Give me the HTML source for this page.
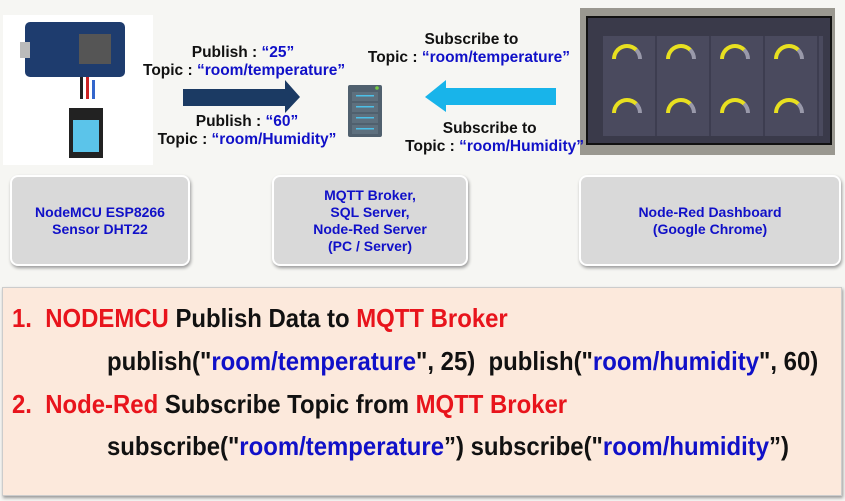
<!DOCTYPE html>
<html><head><style>
body{margin:0;width:845px;height:501px;background:#f6f6f3;position:relative;overflow:hidden;font-family:"Liberation Sans",Arial,sans-serif;font-weight:bold}
.a{position:absolute}
.box{position:absolute;background:#d9d9d9;border:2px solid #fff;border-radius:8px;box-shadow:1px 2px 3px #999;display:flex;align-items:center;justify-content:center;text-align:center;color:#1010c8;font-size:14px;line-height:17px}
.t{position:absolute;font-size:15.5px;color:#111;white-space:nowrap;text-align:center;line-height:18px}
.b{color:#1010c8}.r{color:#e8141c}
.ln{position:absolute;white-space:nowrap;font-size:26px;transform:scaleX(0.92);transform-origin:left center;color:#111}
.g{position:absolute;width:22px;height:11px;border:4px solid #e8e020;border-bottom:none;border-radius:15px 15px 0 0;border-right-color:#99a}
</style></head><body>
<div class="a" style="left:3px;top:15px;width:150px;height:150px;background:#fff"></div>
<div class="a" style="left:25px;top:22px;width:100px;height:55px;background:#1e3c6e;border-radius:5px"></div>
<div class="a" style="left:20px;top:42px;width:10px;height:16px;background:#bbb"></div>
<div class="a" style="left:79px;top:34px;width:32px;height:30px;background:#555"></div>
<div class="a" style="left:80px;top:77px;width:3px;height:22px;background:#222"></div>
<div class="a" style="left:86px;top:77px;width:3px;height:22px;background:#c22"></div>
<div class="a" style="left:92px;top:80px;width:3px;height:19px;background:#36c"></div>
<div class="a" style="left:69px;top:108px;width:34px;height:50px;background:#222"></div>
<div class="a" style="left:73px;top:120px;width:26px;height:32px;background:#5bc4ea"></div>
<div class="a" style="left:580px;top:8px;width:255px;height:147px;background:#9a9890"></div>
<div class="a" style="left:586px;top:16px;width:242px;height:125px;background:#3a3a4a;border:2px solid #111"></div>
<div class="a" style="left:603px;top:36px;width:220px;height:100px;background:repeating-linear-gradient(90deg,#4a4a5e 0 52px,#3d3d50 52px 54px)"></div>
<div class="g" style="left:612px;top:44px"></div><div class="g" style="left:666px;top:44px"></div><div class="g" style="left:720px;top:44px"></div><div class="g" style="left:774px;top:44px"></div>
<div class="g" style="left:612px;top:98px"></div><div class="g" style="left:666px;top:98px"></div><div class="g" style="left:720px;top:98px"></div><div class="g" style="left:774px;top:98px"></div>
<div class="t" style="left:143px;top:44px;width:200px">Publish : <span class="b">“25”</span><br>Topic : <span class="b">“room/temperature”</span></div>
<div class="t" style="left:147px;top:113px;width:200px">Publish : <span class="b">“60”</span><br>Topic : <span class="b">“room/Humidity”</span></div>
<div class="t" style="left:360px;top:31px;width:210px;text-align:right">Subscribe to&nbsp;&nbsp;&nbsp;&nbsp;&nbsp;&nbsp;&nbsp;&nbsp;&nbsp;&nbsp;&nbsp;&nbsp;<br><span style="color:#111">Topic : </span><span class="b">“room/temperature”</span></div>
<div class="t" style="left:390px;top:120px;width:194px;text-align:right">Subscribe to&nbsp;&nbsp;&nbsp;&nbsp;&nbsp;&nbsp;&nbsp;&nbsp;&nbsp;&nbsp;&nbsp;<br>Topic : <span class="b">“room/Humidity”</span></div>
<svg class="a" style="left:0;top:0" width="845" height="170">
<polygon points="183,89 285,89 285,80 300,97 285,113 285,106 183,106" fill="#1b3a63"/>
<polygon points="556,88 446,88 446,80 425,97 446,112 446,105 556,105" fill="#18b4ea"/>
<rect x="348" y="85" width="34" height="52" rx="2" fill="#50606e"/>
<rect x="352" y="92" width="26" height="9" fill="#5e707e"/><rect x="352" y="103" width="26" height="9" fill="#5e707e"/><rect x="352" y="114" width="26" height="9" fill="#5e707e"/><rect x="352" y="125" width="26" height="9" fill="#5e707e"/>
<rect x="356" y="95" width="18" height="1.5" fill="#4cc0e8"/><rect x="356" y="106" width="18" height="1.5" fill="#4cc0e8"/><rect x="356" y="117" width="18" height="1.5" fill="#4cc0e8"/><rect x="356" y="128" width="18" height="1.5" fill="#4cc0e8"/>
<circle cx="377" cy="88" r="1.8" fill="#7c4"/>
</svg>
<div class="box" style="left:10px;top:175px;width:176px;height:87px">NodeMCU ESP8266<br>Sensor DHT22</div>
<div class="box" style="left:272px;top:175px;width:192px;height:87px">MQTT Broker,<br>SQL Server,<br>Node-Red Server<br>(PC / Server)</div>
<div class="box" style="left:579px;top:175px;width:258px;height:87px">Node-Red Dashboard<br>(Google Chrome)</div>
<div class="a" style="left:2px;top:287px;width:838px;height:207px;background:#fce9dc;border:1px solid #ccc;box-shadow:1px 2px 3px #999"></div>
<div class="ln" style="left:12px;top:303px"><span class="r">1.&nbsp; NODEMCU</span> Publish Data to <span class="r">MQTT Broker</span></div>
<div class="ln" style="left:107px;top:346px">publish("<span class="b">room/temperature</span>", 25)&nbsp; publish("<span class="b">room/humidity</span>", 60)</div>
<div class="ln" style="left:12px;top:389px"><span class="r">2.&nbsp; Node-Red</span> Subscribe Topic from <span class="r">MQTT Broker</span></div>
<div class="ln" style="left:107px;top:431px">subscribe("<span class="b">room/temperature</span>”) subscribe("<span class="b">room/humidity</span>”)</div>
</body></html>
